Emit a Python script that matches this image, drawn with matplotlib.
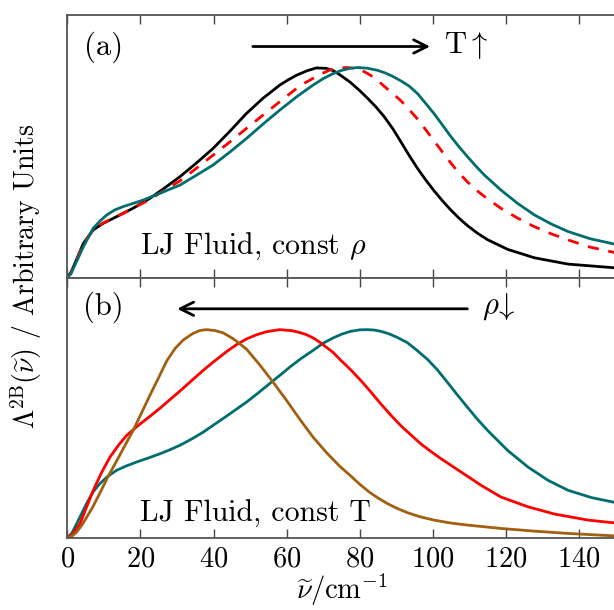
import numpy as np
import matplotlib
matplotlib.use("Agg")
import matplotlib.pyplot as plt

plt.rcParams['font.family'] = 'serif'
plt.rcParams['font.serif'] = ['cmr10']
plt.rcParams['mathtext.fontset'] = 'cm'
plt.rcParams['axes.unicode_minus'] = False
plt.rcParams['axes.formatter.use_mathtext'] = True

# Panel (a): LJ fluid, constant density, increasing T (black -> red dashed -> teal)
a_black_x = [0, 1, 2.1, 4.4, 7.1, 9.8, 13.5, 18, 22.6, 26.5, 30.8, 35.3, 39.9, 44.5, 49, 53.5, 58.1,
             60.5, 62.7, 65.5, 68.1, 70.9, 72.9, 74.5, 77.4, 80, 82, 84.3, 86.6, 89, 91.2, 93.5,
             95.8, 98, 100.3, 102.6, 104.9, 107.2, 109.5, 112.3, 115, 120.5, 127.8, 137, 150]
a_black_y = [0, 0.025, 0.068, 0.163, 0.227, 0.258, 0.29, 0.33, 0.377, 0.425, 0.48, 0.545, 0.615,
             0.697, 0.781, 0.853, 0.916, 0.942, 0.963, 0.984, 0.998, 0.996, 0.984, 0.966, 0.93,
             0.89, 0.856, 0.815, 0.768, 0.71, 0.648, 0.582, 0.52, 0.466, 0.414, 0.366, 0.322,
             0.282, 0.247, 0.21, 0.18, 0.134, 0.094, 0.064, 0.046]

a_red_x = [0, 1, 2.1, 4.4, 7.1, 9.8, 13.5, 18, 22.6, 26.5, 30.8, 35.3, 39.9, 44.5, 49, 53.5, 58.1,
           62.7, 65, 67.2, 69.5, 71.8, 74, 76.4, 78.5, 80.5, 82.5, 84.5, 86.6, 88.9, 91.2, 93.5,
           95.8, 98, 100.3, 102.6, 104.9, 107.2, 109.5, 111.8, 114.1, 118.6, 123.2, 127.8, 132.4,
           137, 143, 150]
a_red_y = [0, 0.022, 0.065, 0.16, 0.228, 0.26, 0.29, 0.33, 0.372, 0.415, 0.46, 0.52, 0.583, 0.646,
           0.71, 0.773, 0.837, 0.9, 0.927, 0.948, 0.97, 0.988, 0.997, 1.0, 0.997, 0.987, 0.968,
           0.945, 0.912, 0.878, 0.843, 0.80, 0.755, 0.705, 0.652, 0.598, 0.546, 0.497, 0.455,
           0.418, 0.386, 0.33, 0.283, 0.242, 0.208, 0.179, 0.145, 0.118]

a_teal_x = [0, 1, 2.1, 4.4, 7.1, 9, 10.8, 13, 15.3, 18, 20.8, 25.3, 30.8, 35.3, 39.9, 44.5, 49,
            53.5, 58.1, 62.7, 67.2, 70, 72.7, 75, 77, 79.4, 82, 84.8, 87, 89, 91.2, 93.5, 95.8, 98,
            100.3, 102.6, 104.9, 107.2, 109.5, 111.8, 114.1, 118.6, 123.2, 127.8, 132.4, 137, 143,
            150]
a_teal_y = [0, 0.018, 0.06, 0.147, 0.235, 0.27, 0.298, 0.322, 0.338, 0.353, 0.369, 0.401, 0.44,
            0.487, 0.536, 0.598, 0.662, 0.73, 0.797, 0.86, 0.916, 0.947, 0.971, 0.986, 0.995, 1.0,
            0.997, 0.987, 0.974, 0.958, 0.937, 0.912, 0.876, 0.83, 0.781, 0.727, 0.672, 0.622,
            0.575, 0.53, 0.488, 0.417, 0.353, 0.298, 0.255, 0.219, 0.185, 0.158]

# Panel (b): LJ fluid, constant T, decreasing density (teal -> red -> brown)
b_brown_x = [0, 1.5, 2.6, 4, 5.3, 7, 8.9, 11, 13.5, 15.8, 18, 20.3, 22.6, 25, 27.2, 29.5, 31.7,
             34.4, 36.3, 38.1, 40.3, 42.6, 45.5, 49, 52.7, 56.3, 60, 63.6, 67.2, 70.9, 74.5, 77.4,
             80, 82.5, 85, 87.5, 90, 93, 96.5, 100.3, 104.9, 109.5, 118.6, 127.8, 137, 150]
b_brown_y = [0, 0.012, 0.03, 0.062, 0.1, 0.15, 0.215, 0.29, 0.37, 0.445, 0.516, 0.6, 0.685, 0.77,
             0.85, 0.91, 0.95, 0.982, 0.996, 1.0, 0.996, 0.985, 0.955, 0.907, 0.83, 0.748, 0.66,
             0.57, 0.485, 0.41, 0.345, 0.30, 0.258, 0.222, 0.192, 0.166, 0.144, 0.122, 0.102,
             0.086, 0.072, 0.062, 0.046, 0.033, 0.022, 0.01]

b_red_x = [0, 1.5, 3.5, 5.3, 7.1, 9.4, 11.7, 14, 16.2, 19.4, 22.3, 25.3, 28, 30.8, 34.5, 37.2,
           39.9, 43.6, 46.3, 49, 51.7, 54.5, 58.1, 61.5, 63.6, 65.4, 67.5, 69.2, 72.7, 74.7, 77.5,
           80.2, 83, 85.7, 88.5, 91.2, 94, 96.7, 99.5, 102.2, 107.7, 113.2, 118.6, 126, 133.3,
           142.5, 150]
b_red_y = [0, 0.02, 0.07, 0.15, 0.229, 0.315, 0.389, 0.445, 0.492, 0.54, 0.58, 0.622, 0.663, 0.705,
           0.763, 0.805, 0.844, 0.895, 0.928, 0.955, 0.975, 0.99, 1.0, 0.995, 0.986, 0.976, 0.958,
           0.938, 0.891, 0.855, 0.808, 0.758, 0.702, 0.645, 0.59, 0.54, 0.495, 0.452, 0.415,
           0.381, 0.317, 0.253, 0.197, 0.15, 0.115, 0.086, 0.072]

b_teal_x = [0, 1.3, 2.6, 4, 5.3, 7, 8.9, 11, 13.5, 16, 19, 22, 25.3, 28, 30.8, 34, 37, 39.9, 43,
            46, 49, 52, 55, 58.1, 61, 64, 67.2, 70, 72.7, 75, 77.5, 80, 82, 84, 86, 88, 90, 93,
            95.7, 98.5, 101.2, 104, 106.7, 109.5, 112.2, 115, 120.5, 126, 131.5, 137, 143.4, 150]
b_teal_y = [0, 0.025, 0.07, 0.12, 0.166, 0.22, 0.261, 0.295, 0.325, 0.345, 0.365, 0.383, 0.404,
            0.423, 0.445, 0.475, 0.506, 0.541, 0.578, 0.615, 0.652, 0.693, 0.736, 0.78, 0.822,
            0.862, 0.9, 0.935, 0.96, 0.978, 0.992, 0.999, 1.0, 0.998, 0.991, 0.98, 0.965, 0.938,
            0.9, 0.858, 0.808, 0.747, 0.687, 0.627, 0.57, 0.516, 0.42, 0.341, 0.277, 0.229, 0.194,
            0.17]

x_ticks = [0, 20, 40, 60, 80, 100, 120, 140]

teal = '#006e6e'
brown = '#a0600f'
red = '#ff0000'

fig = plt.figure(figsize=(6.14, 6.10), dpi=100)
ax1 = fig.add_axes([0.1096, 0.545, 0.893, 0.4304])
ax2 = fig.add_axes([0.1096, 0.118, 0.893, 0.427])

lw = 2
ax1.plot(a_black_x, a_black_y, color='black', lw=lw, solid_joinstyle='round')
ax1.plot(a_red_x, a_red_y, color=red, lw=lw, ls=(0, (4, 3.5)))
ax1.plot(a_teal_x, a_teal_y, color=teal, lw=lw, solid_joinstyle='round')

ax2.plot(b_teal_x, b_teal_y, color=teal, lw=lw, solid_joinstyle='round')
ax2.plot(b_red_x, b_red_y, color=red, lw=lw, solid_joinstyle='round')
ax2.plot(b_brown_x, b_brown_y, color=brown, lw=lw, solid_joinstyle='round')

for ax in (ax1, ax2):
    ax.set_xlim(0, 150)
    ax.set_ylim(0, 1.25)
    ax.set_xticks(x_ticks)
    ax.set_yticks([])
    ax.tick_params(axis='x', direction='in', top=True, bottom=True, length=6.7, width=1,
                   color='#444444', labelsize=20.5, pad=6)
    for s in ax.spines.values():
        s.set_color('#555555')
        s.set_linewidth(1.3)
ax1.tick_params(axis='x', labelbottom=False)

ax1.text(0.066, 0.879, '(a)', transform=ax1.transAxes, fontsize=22, va='center', ha='center')
ax2.text(0.066, 0.885, '(b)', transform=ax2.transAxes, fontsize=22, va='center', ha='center')

ax1.annotate('', xy=(100, 1.10), xytext=(50, 1.10),
             arrowprops=dict(arrowstyle='->', color='black', lw=2, mutation_scale=24))
ax1.text(103, 1.106, r'T$\uparrow$', fontsize=22, va='center', ha='left')
ax2.annotate('', xy=(29.3, 1.10), xytext=(110.2, 1.10),
             arrowprops=dict(arrowstyle='->', color='black', lw=2, mutation_scale=24))
ax2.text(113.5, 1.11, r'$\rho\!\downarrow$', fontsize=22, va='center', ha='left')

ax1.text(19.9, 0.113, r'LJ Fluid, const $\rho$', fontsize=21.5, va='baseline', ha='left')
ax2.text(19.9, 0.078, 'LJ Fluid, const T', fontsize=21.5, va='baseline', ha='left')

ax2.set_xlabel(r'$\widetilde{\nu}/\mathrm{cm}^{-1}$', fontsize=20.5)
ax2.xaxis.set_label_coords(0.5, -0.132)
fig.text(0.042, 0.547, r'$\Lambda^{\mathrm{2B}}(\widetilde{\nu})$ / Arbitrary Units', fontsize=20,
         rotation=90, va='center', ha='center')

fig.savefig('out.png', dpi=100)
